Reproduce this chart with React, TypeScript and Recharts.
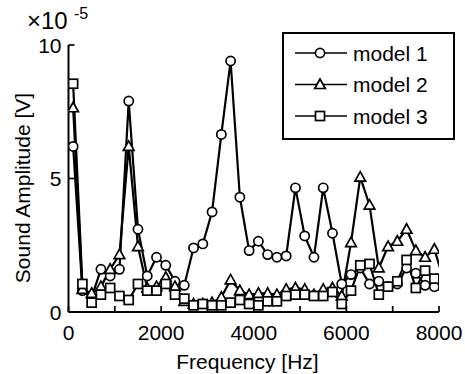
import React from "react";
import { LineChart, Line, XAxis, YAxis, Legend } from "recharts";

// sampled frequencies (Hz); last one sits just past the axis end and is clipped
const freqs = [
  100, 300, 500, 700, 900, 1100, 1300, 1500, 1700, 1900,
  2100, 2300, 2500, 2700, 2900, 3100, 3300, 3500, 3700, 3900,
  4100, 4300, 4500, 4700, 4900, 5100, 5300, 5500, 5700, 5900,
  6100, 6300, 6500, 6700, 6900, 7100, 7300, 7500, 7700, 7900, 8100,
];

// amplitudes in units of 1e-5 V
const model1 = [
  6.2, 0.8, 0.55, 1.6, 1.35, 1.6, 7.9, 3.1, 1.35, 2.05,
  1.75, 1.15, 1.0, 2.4, 2.55, 3.75, 6.65, 9.4, 4.3, 2.3,
  2.65, 2.15, 2.05, 2.1, 4.65, 2.85, 2.05, 4.65, 2.95, 1.05,
  1.4, 1.65, 1.05, 1.15, 0.95, 1.05, 1.65, 1.45, 1.0, 0.95, 0.9,
];
const model2 = [
  7.65, 0.85, 0.7, 0.95, 1.6, 2.15, 6.2, 2.45, 0.9, 0.95,
  1.3, 0.95, 0.4, 0.3, 0.3, 0.35, 0.55, 1.2, 0.8, 0.65,
  0.7, 0.7, 0.65, 0.85, 0.9, 0.85, 0.65, 0.85, 0.9, 0.6,
  2.6, 5.05, 4.0, 1.65, 2.45, 2.65, 3.1, 2.3, 2.05, 2.35, 1.2,
];
const model3 = [
  8.55, 1.05, 0.35, 0.65, 0.9, 0.6, 0.45, 1.05, 0.8, 0.8,
  1.05, 0.65, 0.5, 0.25, 0.3, 0.25, 0.25, 0.35, 0.45, 0.3,
  0.25, 0.4, 0.4, 0.6, 0.65, 0.65, 0.6, 0.6, 0.75, 0.3,
  0.8, 1.75, 1.8, 0.65, 0.95, 1.15, 1.95, 0.9, 1.55, 1.25, 1.0,
];

const seriesNames = ["model 1", "model 2", "model 3"];
const xTicks = [0, 1000, 2000, 3000, 4000, 5000, 6000, 7000, 8000];
const yTicks = [0, 5, 10];

const data = freqs.map((f, i) => ({ f, m1: model1[i], m2: model2[i], m3: model3[i] }));

const FONT = "'Liberation Sans', Arial, sans-serif";

const circleDot = (p: any) => (
  <circle key={p.index} cx={p.cx} cy={p.cy} r={4.6} fill="#fff" stroke="#000" strokeWidth={1.7} />
);
const triDot = (p: any) => (
  <polygon
    key={p.index}
    points={`${p.cx},${p.cy - 5.5} ${p.cx - 5.3},${p.cy + 4} ${p.cx + 5.3},${p.cy + 4}`}
    fill="#fff"
    stroke="#000"
    strokeWidth={1.7}
  />
);
const sqDot = (p: any) => (
  <rect key={p.index} x={p.cx - 4.5} y={p.cy - 4.5} width={9} height={9} fill="#fff" stroke="#000" strokeWidth={1.7} />
);

const XTick = ({ x, y, payload }: any) => (
  <g>
    <line x1={x} y1={y} x2={x} y2={y - 6} stroke="#000" strokeWidth={1.7} />
    {payload.value % 2000 === 0 && (
      <text x={x} y={y + 28} textAnchor="middle" fontSize={21} fontFamily={FONT} fill="#000">
        {payload.value}
      </text>
    )}
  </g>
);

const YTick = ({ x, y, payload }: any) => (
  <g>
    <line x1={x} y1={y} x2={x + 6} y2={y} stroke="#000" strokeWidth={1.7} />
    <text x={x - 7} y={y + 7.5} textAnchor="end" fontSize={21} fontFamily={FONT} fill="#000">
      {payload.value}
    </text>
  </g>
);

const markers = [circleDot, triDot, sqDot];

const LegendBox = () => (
  <svg width={173} height={108}>
    <rect x={1} y={1} width={171} height={106} fill="#fff" stroke="#000" strokeWidth={2} />
    {seriesNames.map((name, i) => {
      const cy = 21 + i * 31.5;
      return (
        <g key={name}>
          <line x1={13} y1={cy} x2={65} y2={cy} stroke="#000" strokeWidth={1.7} />
          {markers[i]({ cx: 38, cy, index: i })}
          <text x={71} y={cy + 7.5} fontSize={21} fontFamily={FONT} fill="#000">
            {name}
          </text>
        </g>
      );
    })}
  </svg>
);

export default function App() {
  return (
    <div style={{ position: "absolute", left: 0, top: 0, width: 465, height: 374, background: "#fff" }}>
      <LineChart width={465} height={374} data={data} margin={{ top: 45, right: 26, bottom: 12, left: 8 }}>
        <XAxis
          dataKey="f"
          type="number"
          domain={[0, 8000]}
          ticks={xTicks}
          interval={0}
          allowDataOverflow
          height={50}
          tickSize={0}
          tickMargin={0}
          tickLine={false}
          tick={<XTick />}
          axisLine={{ stroke: "#000", strokeWidth: 2 }}
          label={{
            content: () => (
              <text x={247.5} y={369} textAnchor="middle" fontSize={21} fontFamily={FONT} fill="#000">
                Frequency [Hz]
              </text>
            ),
          }}
        />
        <YAxis
          type="number"
          domain={[0, 10]}
          ticks={yTicks}
          interval={0}
          allowDataOverflow
          width={60.5}
          tickSize={0}
          tickMargin={0}
          tickLine={false}
          tick={<YTick />}
          axisLine={{ stroke: "#000", strokeWidth: 2 }}
          label={{
            content: () => (
              <g>
                <text
                  x={30}
                  y={188}
                  transform="rotate(-90 30 188)"
                  textAnchor="middle"
                  fontSize={21}
                  fontFamily={FONT}
                  fill="#000"
                >
                  Sound Amplitude [V]
                </text>
                <text x={27} y={29} fontSize={24} fontFamily={FONT} fill="#000">
                  ×10
                </text>
                <text x={74} y={19} fontSize={16} fontFamily={FONT} fill="#000">
                  -5
                </text>
              </g>
            ),
          }}
        />
        <Legend
          layout="vertical"
          align="center"
          verticalAlign="middle"
          wrapperStyle={{ left: 282, top: 32, width: 173, height: 108 }}
          content={() => <LegendBox />}
        />
        <Line dataKey="m1" name={seriesNames[0]} stroke="#000" strokeWidth={2.2} dot={circleDot} isAnimationActive={false} />
        <Line dataKey="m2" name={seriesNames[1]} stroke="#000" strokeWidth={2.2} dot={triDot} isAnimationActive={false} />
        <Line dataKey="m3" name={seriesNames[2]} stroke="#000" strokeWidth={2.2} dot={sqDot} isAnimationActive={false} />
      </LineChart>
    </div>
  );
}
